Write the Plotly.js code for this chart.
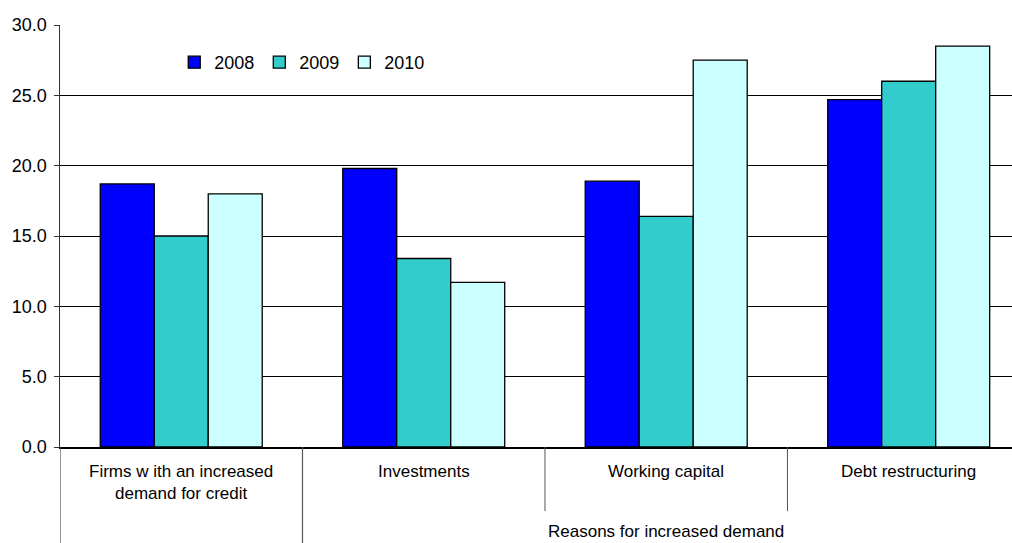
<!DOCTYPE html>
<html>
<head>
<meta charset="utf-8">
<script src="https://cdn.plot.ly/plotly-3.0.1.min.js"></script>
<style>html,body{margin:0;padding:0;background:#fff;}#chart{width:1012px;height:543px;}</style>
</head>
<body>
<div id="chart"></div>
<script>
// Data
var categories = ["Firms with an increased demand for credit", "Investments", "Working capital", "Debt restructuring"];
var categoryLabels = ["Firms w ith an increased<br>demand for credit", "Investments", "Working capital", "Debt restructuring"];
var seriesNames = ["2008", "2009", "2010"];
var values2008 = [18.7, 19.8, 18.9, 24.7];
var values2009 = [15.0, 13.4, 16.4, 26.0];
var values2010 = [18.0, 11.7, 27.5, 28.5];
var groupLabel = "Reasons for increased demand";
var yTicks = [0, 5, 10, 15, 20, 25, 30];

var colors = ["#0000FF", "#33CCCC", "#CCFFFF"];
var allValues = [values2008, values2009, values2010];

var traces = seriesNames.map(function (name, i) {
  return {
    type: "bar",
    name: name,
    x: categories,
    y: allValues[i],
    marker: { color: colors[i], line: { color: "#000", width: 1.3 } },
    hoverinfo: "none"
  };
});

var fontFam = "Liberation Sans, Arial, sans-serif";

var annotations = categories.map(function (c, i) {
  return {
    xref: "x", yref: "paper", x: i, y: -0.031,
    text: categoryLabels[i], showarrow: false,
    xanchor: "center", yanchor: "top",
    font: { family: fontFam, size: 17, color: "#000" }
  };
});
annotations.push({
  xref: "x", yref: "paper", x: 2, y: -0.2,
  text: groupLabel, showarrow: false,
  xanchor: "center", yanchor: "middle",
  font: { family: fontFam, size: 17, color: "#000" }
});

var shapes = [
  { type: "line", xref: "x", yref: "paper", x0: -0.5, x1: -0.5, y0: 0, y1: -0.23, line: { color: "#555", width: 1.2 } },
  { type: "line", xref: "x", yref: "paper", x0: 0.5, x1: 0.5, y0: 0, y1: -0.23, line: { color: "#555", width: 1.2 } },
  { type: "line", xref: "x", yref: "paper", x0: 1.5, x1: 1.5, y0: 0, y1: -0.152, line: { color: "#555", width: 1 } },
  { type: "line", xref: "x", yref: "paper", x0: 2.5, x1: 2.5, y0: 0, y1: -0.152, line: { color: "#555", width: 1 } }
];

var layout = {
  width: 1012, height: 543,
  margin: { l: 60, r: 0, t: 25, b: 96 },
  paper_bgcolor: "#fff", plot_bgcolor: "#fff",
  font: { family: fontFam, size: 17, color: "#000" },
  barmode: "group",
  bargap: 0.332,
  bargroupgap: 0,
  showlegend: true,
  legend: {
    orientation: "h", x: 0.12, y: 0.955, xanchor: "left", yanchor: "top",
    font: { family: fontFam, size: 18, color: "#000" },
    bgcolor: "rgba(0,0,0,0)", traceorder: "normal"
  },
  xaxis: {
    type: "category",
    range: [-0.5, 3.426],
    showticklabels: false,
    showline: true, linecolor: "#000", linewidth: 1.5,
    showgrid: false, ticks: "", zeroline: false, fixedrange: true
  },
  yaxis: {
    range: [0, 30],
    tickvals: yTicks,
    tickformat: ".1f",
    showline: true, linecolor: "#333", linewidth: 1.5,
    showgrid: true, gridcolor: "#000", gridwidth: 1,
    ticks: "outside", ticklen: 5, tickcolor: "#333", tickwidth: 1,
    ticklabelstandoff: 3,
    zeroline: false,
    tickfont: { family: fontFam, size: 18, color: "#000" },
    fixedrange: true
  },
  annotations: annotations,
  shapes: shapes
};

Plotly.newPlot("chart", traces, layout, { displayModeBar: false, staticPlot: true });
</script>
</body>
</html>
